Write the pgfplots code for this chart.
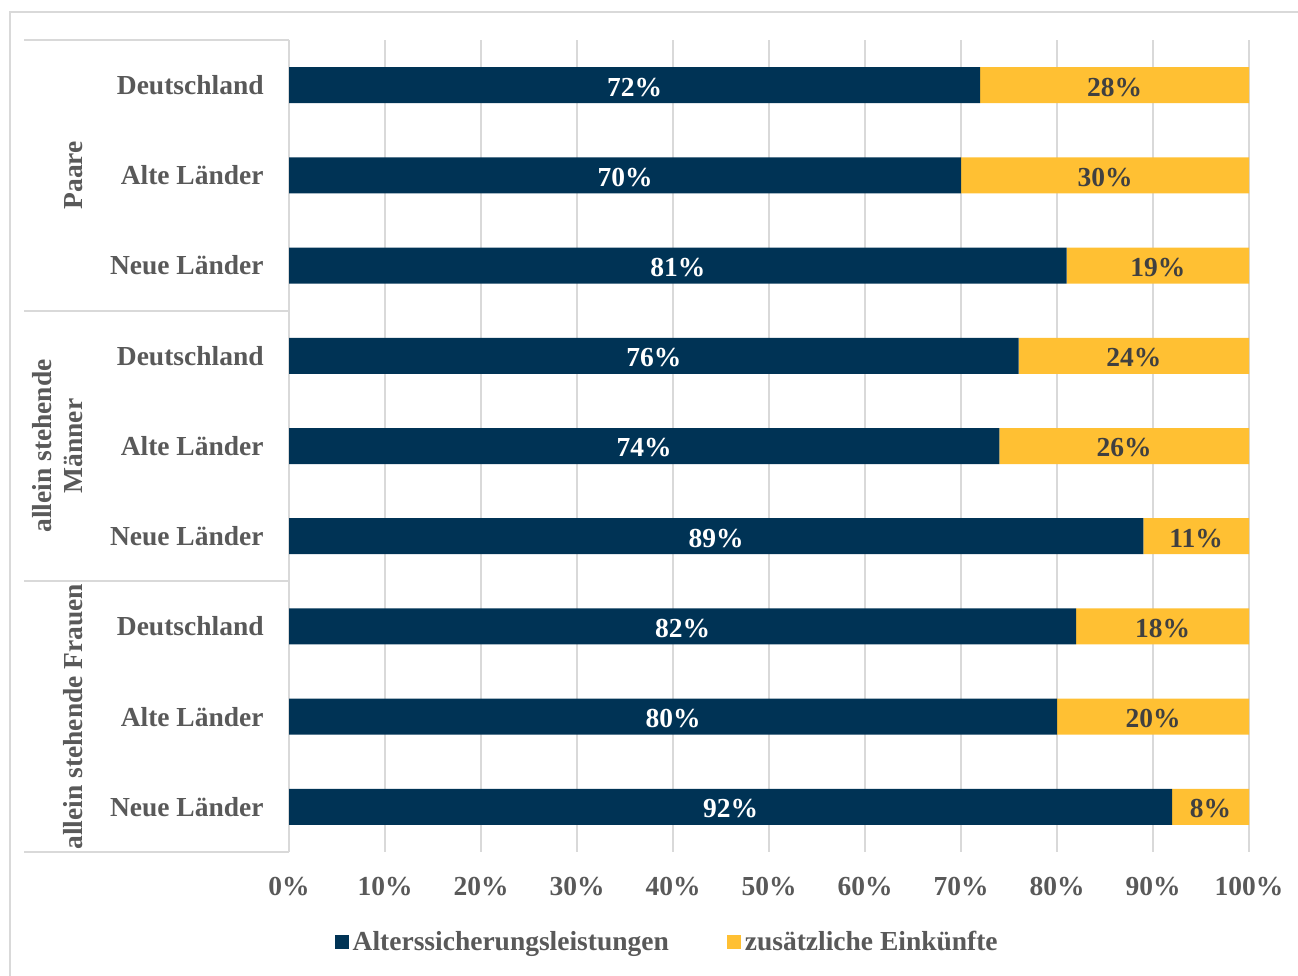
\documentclass[border=0pt]{standalone}
\usepackage{fontspec}
\setmainfont{Liberation Serif}
\usepackage{pgfplots}
\usepackage{pgfplotstable}
\pgfplotsset{compat=1.18}

\definecolor{navy}{RGB}{0,51,85}
\definecolor{gelb}{RGB}{255,192,51}
\definecolor{txt}{RGB}{89,89,89}
\definecolor{lbl}{RGB}{64,64,64}
\definecolor{gridc}{RGB}{217,217,217}

% Anteile am Bruttoeinkommen (Prozent)
\pgfplotstableread{
idx alt zus
0 72 28
1 70 30
2 81 19
3 76 24
4 74 26
5 89 11
6 82 18
7 80 20
8 92 8
}\einkommen

\newcommand\lf{\fontsize{13.8}{15.5}\selectfont\bfseries}

\pgfplotsset{base/.style={
    at={(144.5bp,62bp)}, anchor=south west,
    scale only axis, width=480bp, height=406bp,
    xmin=0, xmax=100, ymin=-0.5, ymax=8.5, y dir=reverse,
    /pgf/number format/assume math mode=true,
    clip=false}}

\begin{document}
\begin{tikzpicture}
\useasboundingbox (0,0) rectangle (649bp,488bp);
\draw[gridc, line width=1bp] (5bp,0) -- (5bp,482bp) -- (649bp,482bp);

\begin{axis}[base,
    xbar stacked, bar width=18bp,
    xtick={0,10,...,100},
    xticklabel={\pgfmathprintnumber{\tick}\%},
    ytick={0,...,8},
    yticklabels={Deutschland, Alte Länder, Neue Länder,
                 Deutschland, Alte Länder, Neue Länder,
                 Deutschland, Alte Länder, Neue Länder},
    xmajorgrids, grid style={gridc, line width=1bp},
    axis line style={draw=none}, major tick length=0pt,
    tick label style={font=\lf, text=txt, inner sep=0pt},
    xticklabel style={anchor=center, yshift=-17.5bp},
    yticklabel style={anchor=east, xshift=-12.5bp},
    legend style={at={(0.395,-0.111)}, anchor=center, draw=none,
        legend columns=2, font=\lf, text=txt,
        /tikz/every even column/.append style={column sep=27bp}},
    legend image code/.code={\fill[#1] (0bp,-3.5bp) rectangle (7bp,3.5bp);},
]
\addplot[fill=navy, draw=none] table[x=alt, y=idx] {\einkommen};
\addplot[fill=gelb, draw=none] table[x=zus, y=idx] {\einkommen};
\legend{Alterssicherungsleistungen, zusätzliche Einkünfte}

\draw[gridc, line width=1bp] (axis cs:-27.6,-0.5) -- (axis cs:0,-0.5);
\draw[gridc, line width=1bp] (axis cs:-27.6,2.5) -- (axis cs:0,2.5);
\draw[gridc, line width=1bp] (axis cs:-27.6,5.5) -- (axis cs:0,5.5);
\draw[gridc, line width=1bp] (axis cs:-27.6,8.5) -- (axis cs:0,8.5);
\node[rotate=90, font=\lf, text=txt] at (axis cs:-22.4,1) {Paare};
\node[rotate=90, font=\lf, text=txt, align=center] at (axis cs:-24.1,4) {allein stehende\\Männer};
\node[rotate=90, font=\lf, text=txt] at (axis cs:-22.5,7) {allein stehende Frauen};
\end{axis}

\begin{axis}[base, hide axis,
    nodes near coords={\pgfmathprintnumber{\pgfplotspointmeta}\%},
    point meta=explicit]
\addplot[draw=none, mark=none,
    every node near coord/.append style={anchor=center, yshift=-1bp, font=\lf, text=white}]
    table[x expr=\thisrow{alt}/2, y=idx, meta=alt] {\einkommen};
\addplot[draw=none, mark=none,
    every node near coord/.append style={anchor=center, yshift=-1bp, font=\lf, text=lbl}]
    table[x expr=\thisrow{alt}+\thisrow{zus}/2, y=idx, meta=zus] {\einkommen};
\end{axis}
\end{tikzpicture}
\end{document}
